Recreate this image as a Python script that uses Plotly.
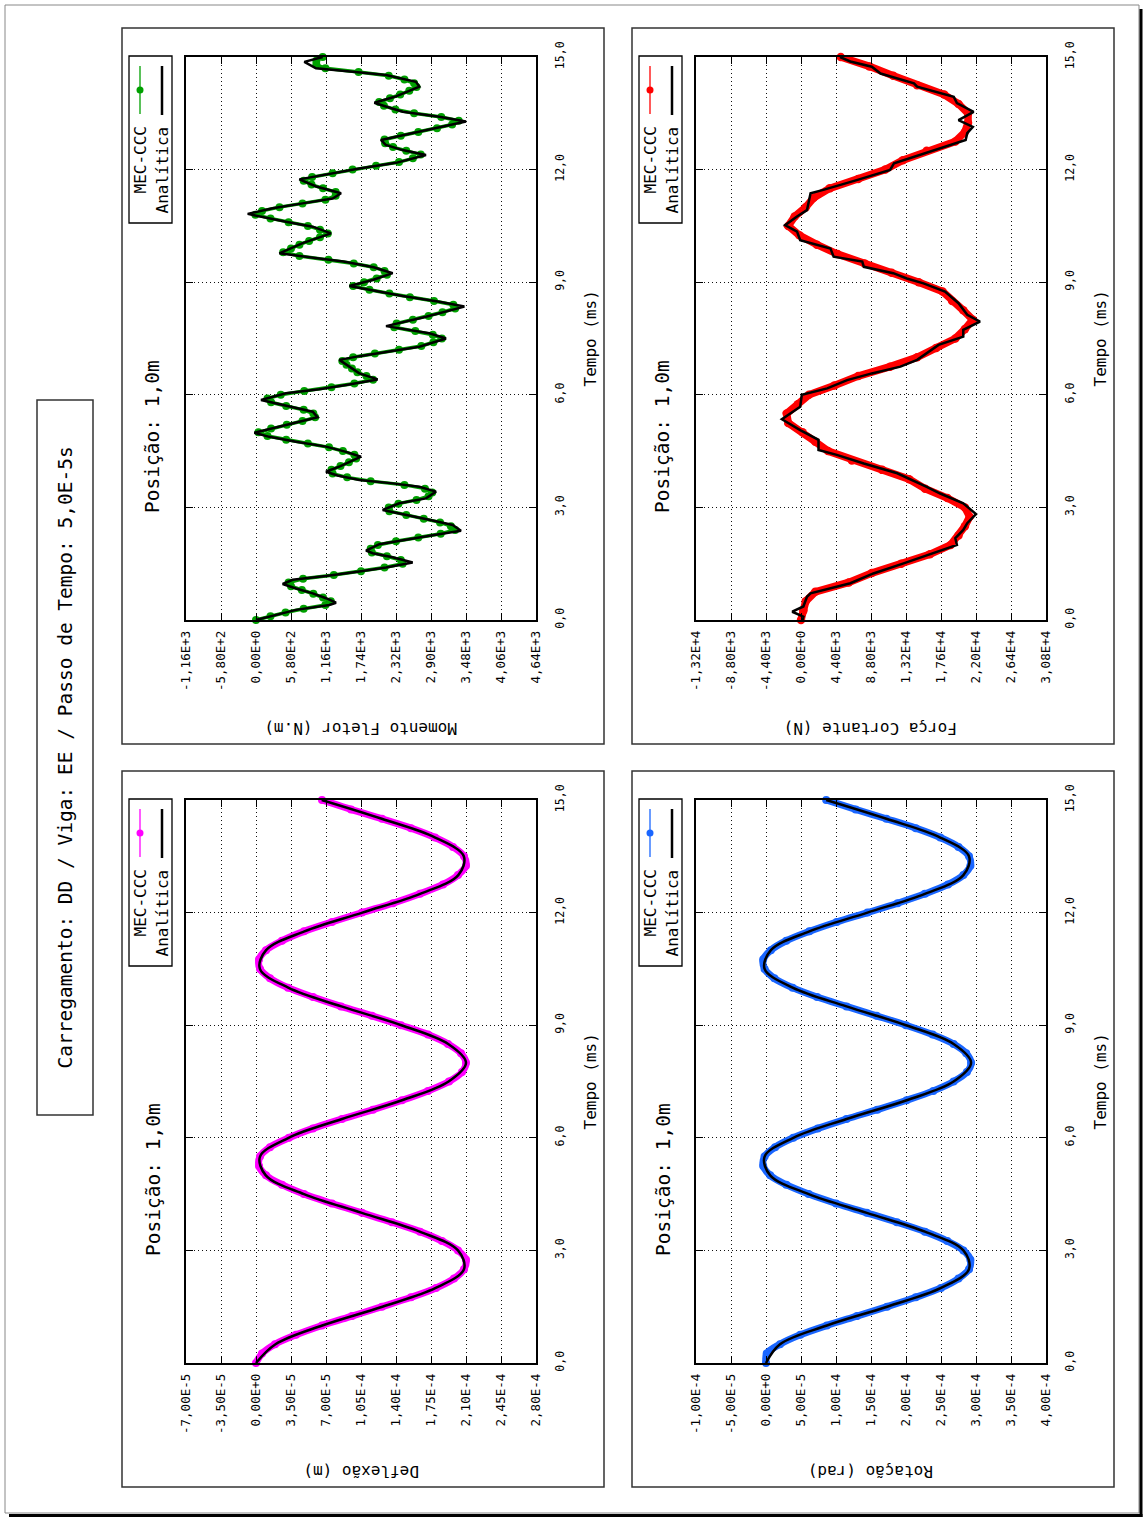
import plotly.graph_objects as go

# ---------------------------------------------------------------
# Data
# ---------------------------------------------------------------
# time axis (ms)
tempo_ticks = [0, 3, 6, 9, 12, 15]
tempo_labels = ["0,0", "3,0", "6,0", "9,0", "12,0", "15,0"]

# MEC-CCC results, deflection / rotation / shear sampled every 0.25 ms
passo_mec = 0.25
deflexao_mec_um = [0, 6, 19, 40, 66, 96, 126, 155, 180, 198, 208, 210, 202, 186, 164, 136,
                   106, 76, 48, 26, 10, 3, 4, 14, 33, 57, 86, 117, 146, 172, 193, 206,
                   210, 205, 192, 172, 145, 116, 85, 57, 32, 14, 4, 3, 10, 26, 48, 76,
                   106, 137, 164, 187, 202, 210, 208, 197, 179, 155, 126, 95, 66]
rotacao_mec_1e5 = [0, 0.1, 2.0, 4.9, 8.7, 13.0, 17.3, 21.4, 25.0, 27.5, 29.0, 29.2, 28.2,
                   25.9, 22.7, 18.7, 14.4, 10.0, 6.1, 2.9, 0.6, -0.4, -0.2, 1.3, 3.9, 7.4,
                   11.5, 15.9, 20.1, 23.9, 26.8, 28.7, 29.3, 28.6, 26.8, 23.8, 20.0, 15.8,
                   11.5, 7.3, 3.8, 1.2, -0.2, -0.4, 0.7, 2.9, 6.2, 10.1, 14.5, 18.8, 22.7,
                   26.0, 28.2, 29.2, 29.0, 27.5, 24.9, 21.4, 17.2, 12.8, 8.6]
cortante_mec_kN = [0.0, 0.3, 0.6, 1.8, 6.0, 8.9, 12.6, 16.2, 18.8, 19.8, 20.6, 21.2, 20.6,
                   18.4, 15.6, 13.6, 10.2, 6.4, 3.4, 1.8, 0.2, -1.6, -1.8, -0.4, 1.0, 4.2,
                   7.2, 11.2, 14.6, 17.0, 19.4, 20.6, 21.6, 20.4, 19.0, 17.8, 14.8, 11.4,
                   8.0, 4.6, 2.0, -0.2, -1.6, -0.8, 0.6, 1.6, 3.6, 7.2, 10.6, 12.8, 15.8,
                   19.4, 20.6, 21.0, 21.0, 19.8, 18.0, 14.6, 11.6, 8.6, 5.0]

# MEC-CCC bending moment, sampled every 0.1 ms
passo_momento = 0.1
momento_mec_Nm = [0, 240, 490, 790, 1150, 1240, 1110, 950, 760, 580,
                  540, 780, 1290, 1740, 2130, 2430, 2400, 2170, 1920, 1900,
                  2020, 2320, 2690, 3060, 3300, 3230, 3050, 2780, 2490, 2210,
                  2200, 2360, 2660, 2860, 2920, 2800, 2460, 1900, 1510, 1270,
                  1250, 1400, 1540, 1660, 1630, 1440, 1210, 860, 500, 190,
                  40, 250, 510, 770, 980, 950, 790, 500, 250, 190,
                  410, 800, 1250, 1630, 1940, 1830, 1680, 1590, 1500, 1430,
                  1610, 1970, 2370, 2740, 2940, 3080, 2930, 2640, 2290, 2330,
                  2600, 2860, 3090, 3300, 3270, 2950, 2550, 2210, 1880, 1610,
                  1790, 2000, 2170, 2130, 1950, 1620, 1200, 720, 450, 580,
                  720, 880, 1060, 1190, 1060, 860, 540, 240, -10, 100,
                  390, 770, 1150, 1320, 1320, 1110, 920, 790, 930, 1270,
                  1600, 1990, 2370, 2600, 2730, 2490, 2270, 2140, 2130, 2400,
                  2690, 3000, 3250, 3360, 3070, 2620, 2310, 2120, 2040, 2220,
                  2390, 2540, 2660, 2620, 2460, 2200, 1700, 1150, 1000, 1000,
                  1105]

# analytic solutions
passo_ana = 0.5
deflexao_ana_um = [0, 19.5, 66.3, 126.4, 179.7, 208, 202, 163.7, 105.8, 48, 9.8, 4.0, 32.6,
                   86, 146, 192.6, 210, 192.2, 145.4, 85.4, 32.2, 3.9, 10.1, 48.4, 106.4,
                   164.1, 202.3, 207.8, 179.2, 125.7, 65.7]
rotacao_ana_1e5 = [0, 2.0, 8.7, 17.3, 25.0, 29.0, 28.2, 22.7, 14.4, 6.1, 0.6, -0.2, 3.9,
                   11.5, 20.1, 26.8, 29.3, 26.8, 20.0, 11.5, 3.8, -0.2, 0.7, 6.2, 14.5,
                   22.7, 28.2, 29.0, 24.9, 17.2, 8.6]

momento_ana_t = [0.00, 0.27, 0.40, 0.46, 0.58, 0.71, 0.84, 0.96, 1.07, 1.17, 1.29, 1.40,
                 1.53, 1.67, 1.78, 1.85, 2.02, 2.13, 2.26, 2.38, 2.53, 2.65, 2.80, 2.93,
                 3.11, 3.24, 3.42, 3.55, 3.64, 3.73, 3.85, 3.95, 4.10, 4.35, 4.48, 4.62,
                 4.75, 4.88, 4.99, 5.11, 5.28, 5.40, 5.55, 5.70, 5.86, 6.04, 6.15, 6.26,
                 6.41, 6.57, 6.75, 6.93, 7.03, 7.15, 7.28, 7.50, 7.64, 7.83, 8.08, 8.35,
                 8.48, 8.63, 8.75, 8.90, 9.06, 9.24, 9.40, 9.55, 9.65, 9.77, 10.04, 10.30,
                 10.48, 10.61, 10.82, 10.97, 11.10, 11.23, 11.37, 11.55, 11.74, 12.03,
                 12.18, 12.39, 12.52, 12.66, 12.79, 12.97, 13.10, 13.28, 13.41, 13.54,
                 13.68, 13.78, 13.94, 14.21, 14.34, 14.52, 14.61, 14.70, 14.87, 15.00]
momento_ana_Nm = [0, 663, 1215, 1326, 1160, 940, 663, 442, 608, 1160, 1712, 2155,
                  2596, 2265, 1934, 1823, 2044, 2431, 2928, 3397, 3259, 2928, 2486, 2099,
                  2375, 2817, 2983, 2707, 2265, 1712, 1350, 1160, 1400, 1740, 1492, 1160,
                  663, 221, -28, 276, 718, 1022, 939, 497, 83, 497, 1050, 1492,
                  2016, 1712, 1547, 1381, 1712, 2155, 2707, 3149, 2872, 2155, 2817, 3453,
                  3038, 2431, 2044, 1547, 1933, 2265, 1950, 1450, 950, 387, 773, 1243,
                  939, 497, -138, 276, 773, 1271, 1409, 1000, 718, 1712,
                  2320, 2817, 2430, 2150, 2071, 2600, 3000, 3480, 3038, 2431,
                  2150, 1961, 2300, 2707, 2650, 2155, 1602, 994, 801, 1105]

cortante_ana_t = [0.00, 0.09, 0.22, 0.36, 0.62, 0.71, 0.98, 1.24, 1.51, 1.86, 2.00, 2.18,
                  2.40, 2.58, 2.82, 3.11, 3.37, 3.55, 3.91, 4.17, 4.40, 4.53, 4.80, 5.06,
                  5.35, 5.68, 6.00, 6.17, 6.39, 6.57, 6.75, 6.93, 7.33, 7.55, 7.73, 7.95,
                  8.13, 8.44, 8.75, 8.97, 9.10, 9.24, 9.41, 9.55, 9.68, 9.90, 10.12, 10.35,
                  10.52, 10.75, 10.92, 11.37, 11.46, 11.72, 11.99, 12.17, 12.43, 12.61,
                  12.79, 12.97, 13.14, 13.32, 13.54, 13.77, 13.94, 14.21, 14.30, 14.56,
                  14.74, 14.88, 15.00]
cortante_ana_kN = [0.2, 0.3, -1.1, 0.3, 0.75, 1.2, 6.2, 9.1, 12.9, 17.5, 19.6, 19.4,
                   20.4, 20.9, 22.0, 20.4, 17.5, 15.8, 12.1, 7.9, 4.5, 2.2, 2.2, -0.1,
                   -2.4, -0.1, 0.1, 3.3, 5.8, 8.9, 12.5, 14.6, 17.3, 20.4, 20.4, 22.5,
                   20.9, 19.8, 18.1, 15.4, 13.3, 11.6, 7.9, 7.7, 4.1, 3.7, -0.1, -0.5,
                   -2.0, -0.5, 0.75, 1.2, 2.8, 7.0, 11.2, 11.7, 15.4, 17.9,
                   20.7, 20.9, 21.6, 19.8, 21.7, 19.6, 19.2, 14.6, 14.2, 10.0,
                   8.9, 6.2, 4.9]

# value axes (ticks in the plotted units, labels as printed)
deflexao_ticks = [-70, -35, 0, 35, 70, 105, 140, 175, 210, 245, 280]
deflexao_labels = ["-7,00E-5", "-3,50E-5", "0,00E+0", "3,50E-5", "7,00E-5", "1,05E-4",
                   "1,40E-4", "1,75E-4", "2,10E-4", "2,45E-4", "2,80E-4"]
rotacao_ticks = [-10, -5, 0, 5, 10, 15, 20, 25, 30, 35, 40]
rotacao_labels = ["-1,00E-4", "-5,00E-5", "0,00E+0", "5,00E-5", "1,00E-4", "1,50E-4",
                  "2,00E-4", "2,50E-4", "3,00E-4", "3,50E-4", "4,00E-4"]
momento_ticks = [-1160, -580, 0, 580, 1160, 1740, 2320, 2900, 3480, 4060, 4640]
momento_labels = ["-1,16E+3", "-5,80E+2", "0,00E+0", "5,80E+2", "1,16E+3", "1,74E+3",
                  "2,32E+3", "2,90E+3", "3,48E+3", "4,06E+3", "4,64E+3"]
cortante_ticks = [-13.2, -8.8, -4.4, 0, 4.4, 8.8, 13.2, 17.6, 22.0, 26.4, 30.8]
cortante_labels = ["-1,32E+4", "-8,80E+3", "-4,40E+3", "0,00E+0", "4,40E+3", "8,80E+3",
                   "1,32E+4", "1,76E+4", "2,20E+4", "2,64E+4", "3,08E+4"]


def grade(passo, n):
    return [round(i * passo, 3) for i in range(n)]


# ---------------------------------------------------------------
# Page geometry (pixels) and helpers
# ---------------------------------------------------------------
W, H = 1146, 1518
MONO = "DejaVu Sans Mono"


def PX(x):
    return x / W


def PY(y):
    return 1 - y / H


# plot areas in pixels
COL = {"L": (186, 536), "R": (696, 1046)}
ROW = {"T": (57, 620), "B": (800, 1363)}

paineis = [
    dict(col="L", row="T", cor="#00a000", titulo="Momento Fletor (N.m)",
         ticks=momento_ticks, labels=momento_labels,
         mec_t=grade(passo_momento, len(momento_mec_Nm)), mec_v=momento_mec_Nm,
         ana_t=momento_ana_t, ana_v=momento_ana_Nm, shape="linear",
         lw_mec=3.5, ms=8),
    dict(col="R", row="T", cor="#ff0000", titulo="Força Cortante (N)",
         ticks=cortante_ticks, labels=cortante_labels,
         mec_t=grade(passo_mec, len(cortante_mec_kN)), mec_v=cortante_mec_kN,
         ana_t=cortante_ana_t, ana_v=cortante_ana_kN, shape="linear",
         lw_mec=7.5, ms=8.5),
    dict(col="L", row="B", cor="#ff00ff", titulo="Deflexão (m)",
         ticks=deflexao_ticks, labels=deflexao_labels,
         mec_t=grade(passo_mec, len(deflexao_mec_um)), mec_v=deflexao_mec_um,
         ana_t=grade(passo_ana, len(deflexao_ana_um)), ana_v=deflexao_ana_um,
         shape="spline", lw_mec=7, ms=8),
    dict(col="R", row="B", cor="#1a66ff", titulo="Rotação (rad)",
         ticks=rotacao_ticks, labels=rotacao_labels,
         mec_t=grade(passo_mec, len(rotacao_mec_1e5)), mec_v=rotacao_mec_1e5,
         ana_t=grade(passo_ana, len(rotacao_ana_1e5)), ana_v=rotacao_ana_1e5,
         shape="spline", lw_mec=7, ms=8),
]

fig = go.Figure()
shapes = []
annotations = []

BOX = dict(type="rect", xref="paper", yref="paper", line=dict(color="#333333", width=1.5),
           fillcolor="rgba(0,0,0,0)", layer="below")

# page frame with shadow
shapes.append(dict(BOX, x0=PX(5), x1=PX(1139), y0=PY(5), y1=PY(1513),
                   line=dict(color="#888888", width=1)))
shapes.append(dict(type="line", xref="paper", yref="paper", x0=PX(9), x1=PX(1142.5),
                   y0=PY(1515.5), y1=PY(1515.5), line=dict(color="black", width=3)))
shapes.append(dict(type="line", xref="paper", yref="paper", x0=PX(1141), x1=PX(1141),
                   y0=PY(9), y1=PY(1517), line=dict(color="black", width=3)))

# title box
shapes.append(dict(BOX, x0=PX(37), x1=PX(93), y0=PY(400), y1=PY(1115)))
annotations.append(dict(text="Carregamento: DD / Viga: EE / Passo de Tempo: 5,0E-5s",
                        x=PX(65), y=PY(757.5), xref="paper", yref="paper", showarrow=False,
                        textangle=-90, xanchor="center", yanchor="middle",
                        font=dict(family=MONO, size=19.5, color="black")))

for i, p in enumerate(paineis, start=1):
    x0, x1 = COL[p["col"]]
    y0, y1 = ROW[p["row"]]
    xa = "x" if i == 1 else f"x{i}"
    ya = "y" if i == 1 else f"y{i}"

    fig.add_trace(go.Scatter(
        x=p["mec_v"], y=p["mec_t"], xaxis=xa, yaxis=ya, mode="lines+markers",
        line=dict(color=p["cor"], width=p["lw_mec"], shape=p["shape"]),
        marker=dict(color=p["cor"], size=p["ms"]), cliponaxis=False,
        name="MEC-CCC", showlegend=False))
    fig.add_trace(go.Scatter(
        x=p["ana_v"], y=p["ana_t"], xaxis=xa, yaxis=ya, mode="lines",
        line=dict(color="black", width=2.5, shape=p["shape"]),
        name="Analítica", showlegend=False))

    eixo = dict(showline=True, linecolor="black", linewidth=1.5, mirror="ticks",
                ticks="inside", ticklen=7, tickwidth=1.2, tickcolor="black",
                showgrid=True, gridcolor="#111111", gridwidth=1.2, griddash="1px,3px",
                zeroline=False, tickangle=-90, tickmode="array", automargin=False)
    fig.layout[("xaxis" if i == 1 else f"xaxis{i}")] = dict(
        eixo, domain=[PX(x0), PX(x1)], anchor=ya,
        range=[p["ticks"][0], p["ticks"][-1]], tickvals=p["ticks"], ticktext=p["labels"],
        ticklabelstandoff=4, tickfont=dict(family=MONO, size=12.5, color="black"))
    fig.layout[("yaxis" if i == 1 else f"yaxis{i}")] = dict(
        eixo, domain=[PY(y1), PY(y0)], anchor=xa, side="right",
        range=[0, 15], tickvals=tempo_ticks, ticktext=tempo_labels,
        ticklabelstandoff=12, tickfont=dict(family=MONO, size=11.5, color="black"))

    # panel frame
    bx0, by0 = x0 - 64, y0 - 29
    shapes.append(dict(BOX, x0=PX(bx0), x1=PX(bx0 + 482), y0=PY(by0), y1=PY(by0 + 716)))

    # axis titles
    annotations.append(dict(text=p["titulo"], x=PX((x0 + x1) / 2), y=PY(y1 + 109),
                            xref="paper", yref="paper", showarrow=False, textangle=180,
                            xanchor="center", yanchor="middle",
                            font=dict(family=MONO, size=16, color="black")))
    annotations.append(dict(text="Tempo (ms)", x=PX(x1 + 54), y=PY((y0 + y1) / 2),
                            xref="paper", yref="paper", showarrow=False, textangle=-90,
                            xanchor="center", yanchor="middle",
                            font=dict(family=MONO, size=16, color="black")))
    annotations.append(dict(text="Posição: 1,0m", x=PX(x0 - 33), y=PY(y0 + 380),
                            xref="paper", yref="paper", showarrow=False, textangle=-90,
                            xanchor="center", yanchor="middle",
                            font=dict(family=MONO, size=19.5, color="black")))

    # key
    shapes.append(dict(type="rect", xref="paper", yref="paper", x0=PX(x0 - 57),
                       x1=PX(x0 - 14), y0=PY(y0 - 1), y1=PY(y0 + 166),
                       line=dict(color="black", width=1.3), fillcolor="white"))
    shapes.append(dict(type="line", xref="paper", yref="paper", x0=PX(x0 - 46),
                       x1=PX(x0 - 46), y0=PY(y0 + 9), y1=PY(y0 + 57),
                       line=dict(color=p["cor"], width=1.3)))
    shapes.append(dict(type="circle", xref="paper", yref="paper", x0=PX(x0 - 49.5),
                       x1=PX(x0 - 42.5), y0=PY(y0 + 29.5), y1=PY(y0 + 36.5),
                       line=dict(color=p["cor"], width=0), fillcolor=p["cor"]))
    shapes.append(dict(type="line", xref="paper", yref="paper", x0=PX(x0 - 24),
                       x1=PX(x0 - 24), y0=PY(y0 + 9), y1=PY(y0 + 58),
                       line=dict(color="black", width=2.5)))
    for txt, xx in (("MEC-CCC", x0 - 46), ("Analítica", x0 - 24)):
        annotations.append(dict(text=txt, x=PX(xx), y=PY(y0 + 68), xref="paper",
                                yref="paper", showarrow=False, textangle=-90,
                                xanchor="center", yanchor="top",
                                font=dict(family=MONO, size=16, color="black")))

fig.update_layout(width=W, height=H, autosize=False,
                  margin=dict(l=0, r=0, t=0, b=0, pad=0),
                  paper_bgcolor="white", plot_bgcolor="white",
                  showlegend=False, shapes=shapes, annotations=annotations)

fig.write_html("out.html")
